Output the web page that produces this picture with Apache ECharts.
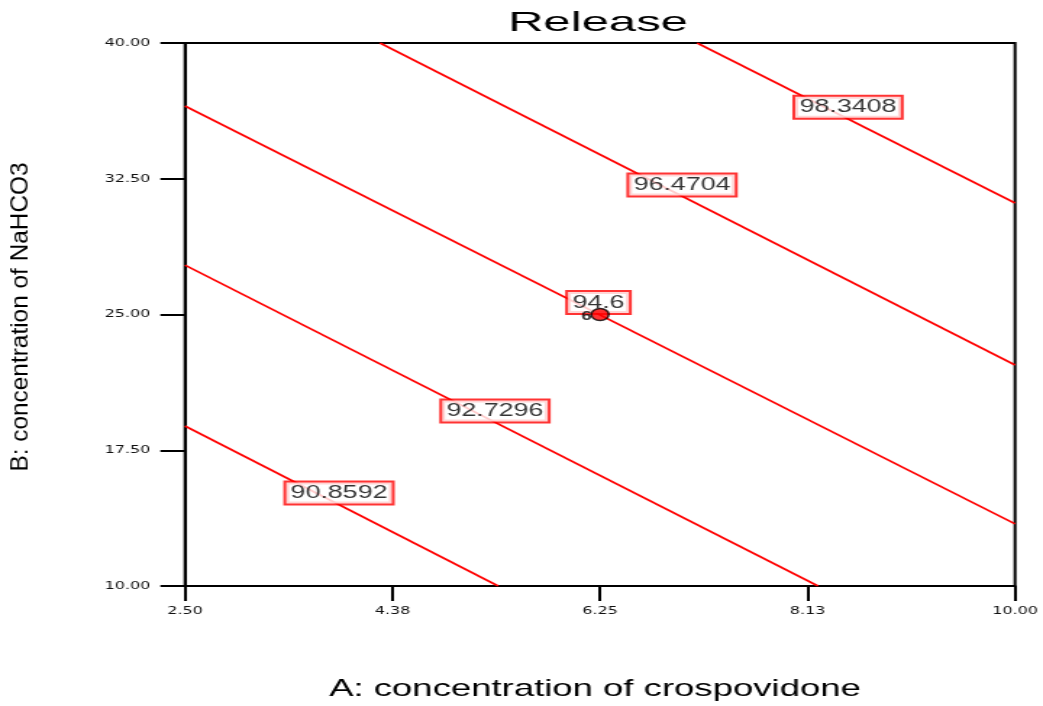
<!DOCTYPE html>
<html>
<head>
<meta charset="utf-8">
<script src="https://cdn.jsdelivr.net/npm/echarts@6/dist/echarts.min.js"></script>
<style>
  html, body { margin: 0; padding: 0; background: #fff; overflow: hidden; }
  /* the plot is laid out on a narrower canvas and widened to the window */
  #chart { width: 720px; height: 706px; transform: scaleX(1.448611); transform-origin: 0 0; }
</style>
</head>
<body>
<div id="chart"></div>
<script>
// Contour levels of the Release response surface
const levels = [90.8592, 92.7296, 94.6, 96.4704, 98.3408];
// Each contour is a straight segment: start and end points (A, B)
const lineStartA = [2.5, 2.5, 2.5, 4.262, 7.127];
const lineStartB = [18.84, 27.73, 36.52, 40, 40];
const lineEndA = [5.33, 8.22, 10, 10, 10];
const lineEndB = [10, 10, 13.43, 22.21, 31.16];
// Where each contour's level label sits
const labelA = [3.892, 5.301, 6.236, 6.991, 8.491];
const labelB = [15.14, 19.67, 25.66, 32.15, 36.45];
// Centre design point and its replicate count
const designA = [6.25];
const designB = [25];
const designCount = [6];
// Axis ticks
const xTickValues = [2.5, 4.375, 6.25, 8.125, 10];
const xTickLabels = ['2.50', '4.38', '6.25', '8.13', '10.00'];
const yTickValues = [10, 17.5, 25, 32.5, 40];
const yTickLabels = ['10.00', '17.50', '25.00', '32.50', '40.00'];

const chart = echarts.init(document.getElementById('chart'));

const contourSeries = levels.map((lv, i) => ({
  type: 'line',
  name: String(lv),
  data: [[lineStartA[i], lineStartB[i]], [lineEndA[i], lineEndB[i]]],
  showSymbol: false,
  symbol: 'none',
  silent: true,
  z: 2,
  lineStyle: { color: '#ff0000', width: 1.7 }
}));

const labelSeries = {
  type: 'scatter',
  data: levels.map((lv, i) => [labelA[i], labelB[i], lv]),
  symbolSize: 0,
  silent: true,
  z: 4,
  label: {
    show: true,
    position: 'inside',
    formatter: p => String(p.value[2]),
    fontFamily: 'Liberation Sans',
    fontSize: 18.5,
    lineHeight: 19,
    color: '#000',
    backgroundColor: '#fff',
    borderColor: '#ff0000',
    borderWidth: 2,
    padding: [1, 3, 1, 3]
  }
};

const designSeries = {
  type: 'scatter',
  data: designA.map((a, i) => [a, designB[i], designCount[i]]),
  symbol: 'circle',
  symbolSize: 12,
  silent: true,
  z: 6,
  itemStyle: { color: '#ff0000', borderColor: '#000', borderWidth: 1.5 },
  label: {
    show: true,
    position: 'left',
    distance: -1,
    offset: [0, 2],
    formatter: p => String(p.value[2]),
    fontFamily: 'Liberation Sans',
    fontWeight: 'bold',
    fontSize: 13,
    color: '#000'
  }
};

const tickFont = { fontFamily: 'DejaVu Sans', fontSize: 11, color: '#111' };

chart.setOption({
  animation: false,
  backgroundColor: '#ffffff',
  grid: {
    left: 127.7, right: 19.3, top: 43, bottom: 120,
    show: true, borderColor: '#000', borderWidth: 2, backgroundColor: 'transparent'
  },
  xAxis: {
    type: 'value',
    min: 2.5, max: 10,
    position: 'bottom',
    splitLine: { show: false },
    axisLine: { show: true, onZero: false, lineStyle: { color: '#000', width: 2 } },
    axisTick: { show: true, inside: false, length: 15, customValues: xTickValues, lineStyle: { color: '#000', width: 2 } },
    axisLabel: Object.assign({
      show: true, margin: 20, customValues: xTickValues,
      formatter: v => xTickLabels[xTickValues.indexOf(v)] ?? v.toFixed(2)
    }, tickFont)
  },
  yAxis: {
    type: 'value',
    min: 10, max: 40,
    position: 'left',
    splitLine: { show: false },
    axisLine: { show: true, onZero: false, lineStyle: { color: '#000', width: 2 } },
    axisTick: { show: true, inside: false, length: 17, customValues: yTickValues, lineStyle: { color: '#000', width: 2 } },
    axisLabel: Object.assign({
      show: true, margin: 24, customValues: yTickValues,
      formatter: v => yTickLabels[yTickValues.indexOf(v)] ?? v.toFixed(2)
    }, tickFont)
  },
  graphic: [
    {
      type: 'text', x: 412.8, y: 23, scaleX: 1.21, silent: true,
      style: {
        text: 'Release', font: '28px "Liberation Sans"', fill: '#000',
        align: 'center', verticalAlign: 'middle', textAlign: 'center', textVerticalAlign: 'middle'
      }
    },
    {
      type: 'text', x: 410.7, y: 689, scaleX: 1.05, silent: true,
      style: {
        text: 'A: concentration of crospovidone', font: '24px "Liberation Sans"', fill: '#000',
        align: 'center', verticalAlign: 'middle', textAlign: 'center', textVerticalAlign: 'middle'
      }
    },
    {
      type: 'text', x: 14.8, y: 317, rotation: Math.PI / 2, scaleX: 1.22, scaleY: 0.8, silent: true,
      style: {
        text: 'B: concentration of NaHCO3', font: '20px "Liberation Sans"', fill: '#000',
        align: 'center', verticalAlign: 'middle', textAlign: 'center', textVerticalAlign: 'middle'
      }
    }
  ],
  series: contourSeries.concat([labelSeries, designSeries])
});
</script>
</body>
</html>
